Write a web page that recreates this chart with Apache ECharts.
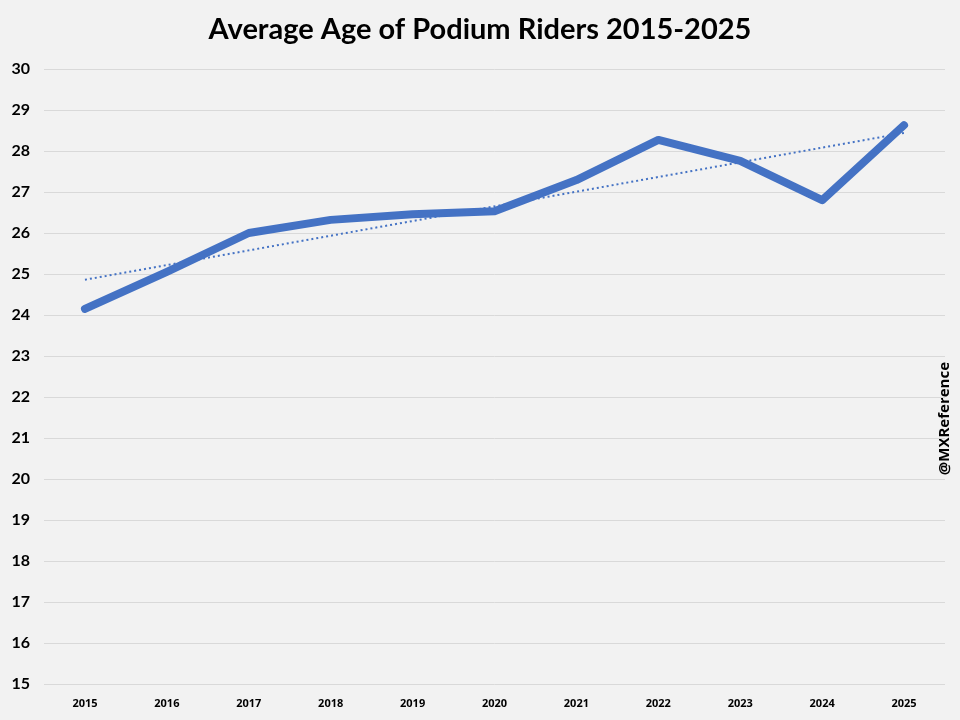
<!DOCTYPE html>
<html><head><meta charset="utf-8">
<script src="https://cdn.jsdelivr.net/npm/echarts@6/dist/echarts.min.js"></script>
<style>html,body{margin:0;padding:0;background:#f2f2f2;}#c{width:960px;height:720px;}</style>
</head><body><div id="c"></div>
<script>
const years = ['2015','2016','2017','2018','2019','2020','2021','2022','2023','2024','2025'];
const avgAge = [24.15, 25.05, 26.0, 26.32, 26.46, 26.53, 27.29, 28.27, 27.76, 26.80, 28.63];
const trendEnds = [24.86, 28.44];
const yTicks = [15, 30, 1];

const chart = echarts.init(document.getElementById('c'));
chart.setOption({
  backgroundColor: '#f2f2f2',
  animation: false,
  title: {
    text: 'Average Age of Podium Riders 2015-2025',
    left: 'center', top: 10,
    textStyle: {fontFamily: 'Lato', fontWeight: 'bold', fontSize: 29, color: '#000'}
  },
  graphic: [{
    type: 'text', left: 937, top: 362, rotation: Math.PI/2,
    style: {text: '@MXReference', font: 'bold 15px "Open Sans"', fill: '#000'}
  }],
  grid: {left: 44, right: 15, top: 69, bottom: 36},
  xAxis: {
    type: 'category', data: years, boundaryGap: true,
    axisLine: {show: false}, axisTick: {show: false},
    axisLabel: {fontFamily: 'Open Sans', fontWeight: 'bold', fontSize: 11, color: '#000', margin: 14}
  },
  yAxis: {
    type: 'value', min: yTicks[0], max: yTicks[1], interval: yTicks[2],
    axisLine: {show: false}, axisTick: {show: false},
    axisLabel: {fontFamily: 'Lato', fontWeight: 'bold', fontSize: 16, color: '#000', margin: 14},
    splitLine: {lineStyle: {color: '#d9d9d9', width: 1}}
  },
  series: [{
    type: 'line', data: avgAge, symbol: 'none',
    lineStyle: {color: '#4472c4', width: 8, cap: 'round', join: 'round'}
  }, {
    type: 'line', data: [[0, trendEnds[0]], [years.length - 1, trendEnds[1]]], symbol: 'none',
    lineStyle: {color: '#4472c4', width: 2, type: [2, 3]}
  }]
});
</script></body></html>
